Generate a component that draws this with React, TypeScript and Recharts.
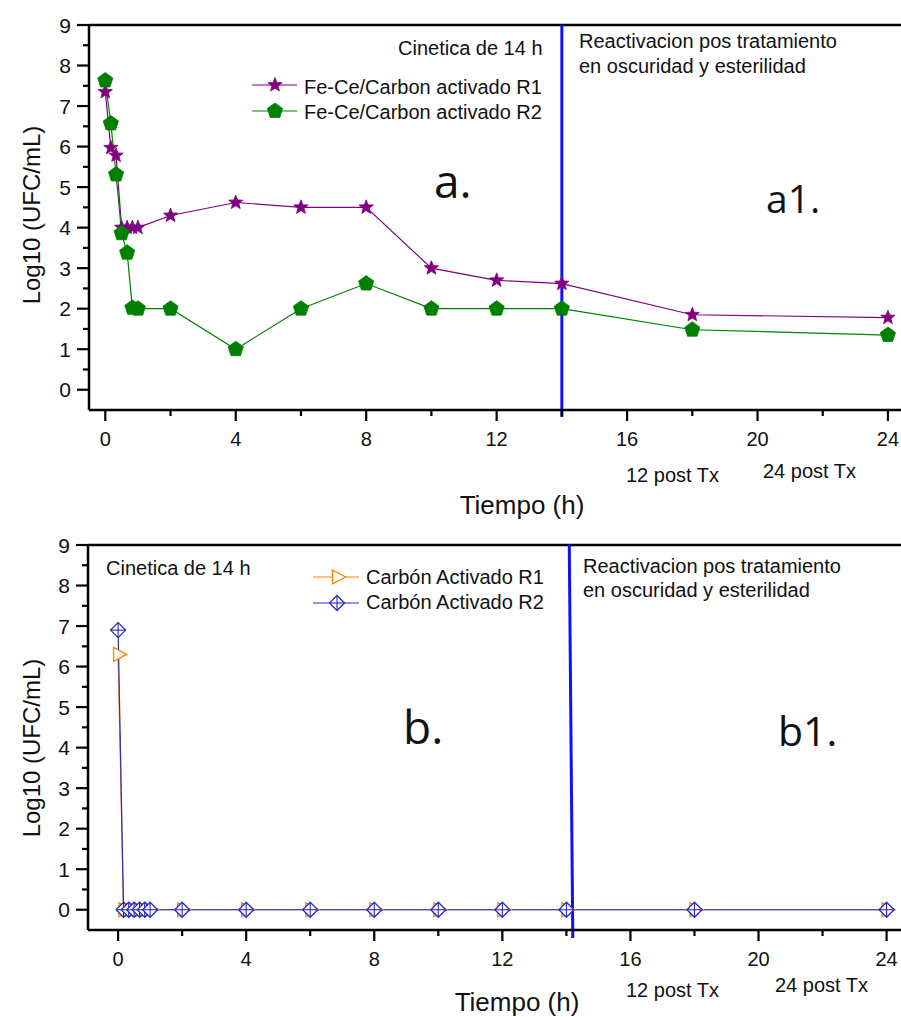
import React from 'react';
import { LineChart, Line, XAxis, YAxis, ReferenceLine } from 'recharts';

// ---------- DATA ----------
const timeTop = [0, 0.17, 0.33, 0.5, 0.67, 0.83, 1, 2, 4, 6, 8, 10, 12, 14, 18, 24];
const feCeR1 = [7.35, 5.97, 5.78, 4.0, 4.0, 4.0, 4.0, 4.3, 4.62, 4.5, 4.5, 3.0, 2.7, 2.62, 1.85, 1.78];
const feCeR2 = [7.63, 6.57, 5.31, 3.86, 3.38, 2.02, 2.0, 2.0, 1.0, 2.0, 2.62, 2.0, 2.0, 2.0, 1.48, 1.35];

const timeBottom = [0, 0.17, 0.33, 0.5, 0.67, 0.83, 1, 2, 4, 6, 8, 10, 12, 14, 18, 24];
const carbonR1 = [6.3, 0, 0, 0, 0, 0, 0, 0, 0, 0, 0, 0, 0, 0, 0, 0];
const carbonR2 = [6.9, 0, 0, 0, 0, 0, 0, 0, 0, 0, 0, 0, 0, 0, 0, 0];

const xTicks = [0, 2, 4, 6, 8, 10, 12, 14, 16, 18, 20, 22, 24];
const yTicks = [0, 0.5, 1, 1.5, 2, 2.5, 3, 3.5, 4, 4.5, 5, 5.5, 6, 6.5, 7, 7.5, 8, 8.5, 9];

const legendTop = ['Fe-Ce/Carbon activado R1', 'Fe-Ce/Carbon activado R2'];
const legendBottom = ['Carbón Activado R1', 'Carbón Activado R2'];
const noteKinetics = 'Cinetica de 14 h';
const noteReact1 = 'Reactivacion pos tratamiento';
const noteReact2 = 'en oscuridad y esterilidad';
const postLabels = ['12 post Tx', '24 post Tx'];
const xTitle = 'Tiempo (h)';
const yTitle = 'Log10 (UFC/mL)';
const treatmentTime = 14;

const topRows = timeTop.map((t, i) => ({ t, r1: feCeR1[i], r2: feCeR2[i] }));
const bottomRows = timeBottom.map((t, i) => ({ t, r1: carbonR1[i], r2: carbonR2[i] }));

// ---------- STYLE ----------
const ARIAL = '"Liberation Sans", Arial, sans-serif';
const BIG = '"Open Sans", "Noto Sans", sans-serif';
const PURPLE = '#800080';
const GREEN = '#008000';
const ORANGE = '#ff8000';
const NAVY = '#2a2ac0';
const BLUE = '#1010ff';

// ---------- MARKERS ----------
const starPath = (cx: number, cy: number, R: number, r: number) => {
  let d = '';
  for (let i = 0; i < 10; i++) {
    const rad = i % 2 === 0 ? R : r;
    const a = -Math.PI / 2 + (i * Math.PI) / 5;
    d += (i === 0 ? 'M' : 'L') + (cx + rad * Math.cos(a)).toFixed(2) + ',' + (cy + rad * Math.sin(a)).toFixed(2);
  }
  return d + 'Z';
};
const pentPath = (cx: number, cy: number, R: number) => {
  let d = '';
  for (let i = 0; i < 5; i++) {
    const a = -Math.PI / 2 + (i * 2 * Math.PI) / 5;
    d += (i === 0 ? 'M' : 'L') + (cx + R * Math.cos(a)).toFixed(2) + ',' + (cy + R * Math.sin(a)).toFixed(2);
  }
  return d + 'Z';
};

const Star = ({ cx, cy }: any) => <path d={starPath(cx, cy, 7.5, 3.2)} fill={PURPLE} stroke={PURPLE} strokeWidth={0.8} />;
const Pent = ({ cx, cy }: any) => <path d={pentPath(cx, cy, 8)} fill={GREEN} stroke={GREEN} strokeWidth={0.8} />;
const Tri = ({ cx, cy }: any) => (
  <path d={`M${cx - 4.5},${cy - 7}L${cx + 8.5},${cy}L${cx - 4.5},${cy + 7}Z`} fill="#fff" stroke={ORANGE} strokeWidth={1.3} />
);
const Diam = ({ cx, cy }: any) => (
  <g>
    <path d={`M${cx},${cy - 7.5}L${cx + 7.5},${cy}L${cx},${cy + 7.5}L${cx - 7.5},${cy}Z`} fill="#fff" stroke={NAVY} strokeWidth={1.3} />
    <line x1={cx - 7.5} x2={cx + 7.5} y1={cy} y2={cy} stroke={NAVY} strokeWidth={1.1} />
    <line x1={cx} x2={cx} y1={cy - 7.5} y2={cy + 7.5} stroke={NAVY} strokeWidth={1.1} />
  </g>
);

// ---------- TICKS ----------
const YTick = (props: any) => {
  const { x, y, payload } = props;
  const v = payload.value;
  const major = Math.abs(v - Math.round(v)) < 1e-6;
  const len = major ? 12 : 6;
  return (
    <g>
      <line x1={x} x2={x - len} y1={y} y2={y} stroke="#000" strokeWidth={2.2} />
      {major && (
        <text x={x - 18} y={y} textAnchor="end" dominantBaseline="central" fontSize={21} fontFamily={ARIAL} fill="#111">
          {v}
        </text>
      )}
    </g>
  );
};
const XTick = (props: any) => {
  const { x, y, payload } = props;
  const v = payload.value;
  const major = v % 4 === 0;
  const len = major ? 11 : 6;
  return (
    <g>
      <line x1={x} x2={x} y1={y} y2={y + len} stroke="#000" strokeWidth={2.2} />
      {major && (
        <text x={x} y={y + 29} textAnchor="middle" dominantBaseline="central" fontSize={20} fontFamily={ARIAL} fill="#111">
          {v}
        </text>
      )}
    </g>
  );
};

const axisLine = { stroke: '#000', strokeWidth: 2.5 };

const txt = (x: number, y: number, s: string, size = 20, extra: any = {}) => (
  <text x={x} y={y} fontSize={size} fontFamily={ARIAL} fill="#111" {...extra}>
    {s}
  </text>
);

export default function App() {
  return (
    <div style={{ position: 'absolute', left: 0, top: 0, width: 901, height: 1017, background: '#fff', overflow: 'hidden' }}>
      {/* TOP CHART */}
      <div style={{ position: 'absolute', left: 0, top: 0 }}>
        <LineChart width={901} height={520} data={topRows} margin={{ top: 25, right: 0, left: 0, bottom: 80 }}>
          <XAxis
            dataKey="t"
            type="number"
            domain={[-0.5, 24.4]}
            ticks={xTicks}
            allowDataOverflow
            height={30}
            tickSize={0}
            tickMargin={0}
            tickLine={false}
            axisLine={axisLine}
            tick={<XTick />}
            interval={0}
          />
          <YAxis
            type="number"
            domain={[-0.5, 9]}
            ticks={yTicks}
            allowDataOverflow
            width={89}
            tickSize={0}
            tickMargin={0}
            tickLine={false}
            axisLine={axisLine}
            tick={<YTick />}
            interval={0}
          />
          <ReferenceLine y={9} stroke="#000" strokeWidth={2.5} ifOverflow="visible" />
          <Line
            dataKey="r1"
            type="linear"
            stroke={PURPLE}
            strokeWidth={1.2}
            isAnimationActive={false}
            activeDot={false}
            dot={(p: any) => <Star key={`s${p.index}`} cx={p.cx} cy={p.cy} />}
          />
          <Line
            dataKey="r2"
            type="linear"
            stroke={GREEN}
            strokeWidth={1.2}
            isAnimationActive={false}
            activeDot={false}
            dot={(p: any) => <Pent key={`p${p.index}`} cx={p.cx} cy={p.cy} />}
          />
          <ReferenceLine
            segment={[{ x: treatmentTime, y: 9 }, { x: treatmentTime, y: -0.67 }]}
            stroke={BLUE}
            strokeWidth={3}
            ifOverflow="visible"
          />
        </LineChart>
      </div>

      {/* BOTTOM CHART */}
      <div style={{ position: 'absolute', left: 0, top: 520 }}>
        <LineChart width={901} height={497} data={bottomRows} margin={{ top: 25, right: 0, left: 0, bottom: 57 }}>
          <XAxis
            dataKey="t"
            type="number"
            domain={[-0.94, 24.45]}
            ticks={xTicks}
            allowDataOverflow
            height={30}
            tickSize={0}
            tickMargin={0}
            tickLine={false}
            axisLine={axisLine}
            tick={<XTick />}
            interval={0}
          />
          <YAxis
            type="number"
            domain={[-0.5, 9]}
            ticks={yTicks}
            allowDataOverflow
            width={88}
            tickSize={0}
            tickMargin={0}
            tickLine={false}
            axisLine={axisLine}
            tick={<YTick />}
            interval={0}
          />
          <ReferenceLine y={9} stroke="#000" strokeWidth={2.5} ifOverflow="visible" />
          <Line
            dataKey="r1"
            type="linear"
            stroke={ORANGE}
            strokeWidth={1.2}
            isAnimationActive={false}
            activeDot={false}
            dot={(p: any) => <Tri key={`t${p.index}`} cx={p.cx} cy={p.cy} />}
          />
          <Line
            dataKey="r2"
            type="linear"
            stroke={NAVY}
            strokeWidth={1.2}
            isAnimationActive={false}
            activeDot={false}
            dot={(p: any) => <Diam key={`d${p.index}`} cx={p.cx} cy={p.cy} />}
          />
          <ReferenceLine
            segment={[{ x: treatmentTime + 0.09, y: 9 }, { x: treatmentTime + 0.2, y: -0.7 }]}
            stroke={BLUE}
            strokeWidth={3}
            ifOverflow="visible"
          />
        </LineChart>
      </div>

      {/* ANNOTATIONS + LEGENDS */}
      <svg width={901} height={1017} style={{ position: 'absolute', left: 0, top: 0, pointerEvents: 'none' }}>
        {/* top */}
        {txt(398, 55, noteKinetics)}
        <line x1={252} x2={297} y1={85} y2={85} stroke={PURPLE} strokeWidth={1.2} />
        <Star cx={275} cy={85} />
        {txt(304, 94, legendTop[0])}
        <line x1={252} x2={297} y1={111} y2={111} stroke={GREEN} strokeWidth={1.2} />
        <Pent cx={275} cy={111} />
        {txt(304, 119, legendTop[1])}
        {txt(579, 48, noteReact1)}
        {txt(579, 73, noteReact2)}
        <text x={434} y={198} fontSize={46} fontFamily={BIG} fill="#111">a.</text>
        <text x={766} y={213} fontSize={39} fontFamily={BIG} fill="#111">a1.</text>
        {txt(626, 482, postLabels[0])}
        {txt(763, 478, postLabels[1])}
        {txt(522, 514, xTitle, 26, { textAnchor: 'middle' })}
        <text x={31} y={215} fontSize={24} fontFamily={ARIAL} fill="#111" textAnchor="middle" dominantBaseline="central" transform="rotate(-90 31 215)">
          {yTitle}
        </text>

        {/* bottom */}
        {txt(106, 575, noteKinetics)}
        <line x1={313} x2={359} y1={577} y2={577} stroke={ORANGE} strokeWidth={1.2} />
        <Tri cx={337} cy={577} />
        {txt(366, 584, legendBottom[0])}
        <line x1={313} x2={359} y1={603} y2={603} stroke={NAVY} strokeWidth={1.2} />
        <Diam cx={337} cy={603} />
        {txt(366, 609, legendBottom[1])}
        {txt(583, 573, noteReact1)}
        {txt(583, 597, noteReact2)}
        <text x={403} y={744} fontSize={46} fontFamily={BIG} fill="#111">b.</text>
        <text x={778} y={746} fontSize={41} fontFamily={BIG} fill="#111">b1.</text>
        {txt(626, 997, postLabels[0])}
        {txt(775, 992, postLabels[1])}
        {txt(517, 1011, xTitle, 26, { textAnchor: 'middle' })}
        <text x={31} y={748} fontSize={24} fontFamily={ARIAL} fill="#111" textAnchor="middle" dominantBaseline="central" transform="rotate(-90 31 748)">
          {yTitle}
        </text>
      </svg>
    </div>
  );
}
